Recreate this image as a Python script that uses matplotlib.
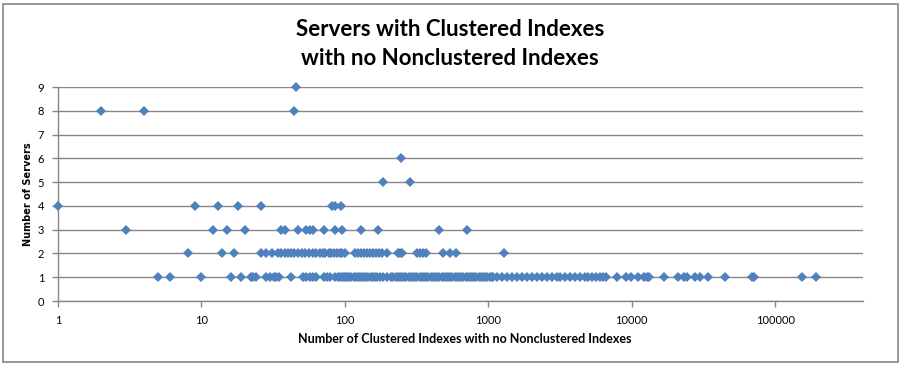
import matplotlib
matplotlib.use('Agg')
import matplotlib.pyplot as plt
from matplotlib.patches import Rectangle
from matplotlib.ticker import FixedLocator, FixedFormatter, NullLocator

plt.rcParams['font.family'] = ['Lato', 'DejaVu Sans']

# x = number of clustered indexes with no nonclustered indexes, grouped by server count
servers_9 = [46]
servers_8 = [2, 4, 44]
servers_6 = [245]
servers_5 = [184, 284]
servers_4 = [1, 9, 13, 18, 26, 82, 86, 94]
servers_3 = [3, 12, 15, 20, 36, 38, 47, 54, 57, 60, 72, 86, 96, 130, 169, 452, 708]
servers_2 = [8, 14, 17, 26, 28, 31, 34, 36, 38, 40, 42, 44, 47, 50, 53, 56, 60, 63,
             67, 70, 73, 77, 80, 84, 88, 92, 96, 100, 118, 124, 130, 136, 142, 150,
             158, 166, 174, 181, 196, 235, 243, 250, 316, 333, 350, 370, 486, 540,
             596, 1295]
servers_1 = [5, 6, 10, 16, 19, 22, 23, 24, 28, 30, 32, 33, 35, 42, 51, 54, 57, 60,
             63, 71, 75, 79, 85, 89, 92, 95, 98, 101, 104, 107, 111, 115, 119, 123,
             127, 131, 136, 141, 146, 151, 157, 163, 168, 177, 186, 196, 211, 218,
             226, 234, 242, 251, 260, 269, 279, 289, 299, 310, 321, 332, 344, 356,
             369, 382, 396, 410, 425, 440, 456, 472, 489, 506, 524, 543, 562, 582,
             603, 625, 647, 670, 694, 719, 745, 771, 799, 827, 857, 888, 920, 953,
             987, 1022, 1058, 1085, 1146, 1242, 1345, 1458, 1580, 1713, 1855, 2010,
             2178, 2360, 2558, 2773, 3005, 3170, 3430, 3720, 4030, 4370, 4730, 4970,
             5300, 5650, 6030, 6310, 6620, 7950, 9100, 9860, 11000, 12100, 12800,
             13300, 16800, 21200, 23000, 24400, 27700, 30000, 33900, 44800, 68500,
             71000, 153000, 192000]

groups = {9: servers_9, 8: servers_8, 6: servers_6, 5: servers_5,
          4: servers_4, 3: servers_3, 2: servers_2, 1: servers_1}

x_ticks = [1, 10, 100, 1000, 10000, 100000]
x_tick_labels = ['1', '10', '100', '1000', '10000', '100000']
y_ticks = [0, 1, 2, 3, 4, 5, 6, 7, 8, 9]

xs = []
ys = []
for n, vals in groups.items():
    xs += vals
    ys += [n] * len(vals)

grey = '#868686'
blue = '#4F81BD'

fig = plt.figure(figsize=(9.01, 3.66), dpi=100)
ax = fig.add_axes([58/901, 65/366, 805/901, 214/366])

ax.plot(xs, ys, 'D', ms=5, color=blue, mew=0, zorder=3, clip_on=False)

ax.set_xscale('log')
ax.set_xlim(1, 4.1e5)
ax.set_ylim(0, 9)
ax.xaxis.set_major_locator(FixedLocator(x_ticks))
ax.xaxis.set_major_formatter(FixedFormatter(x_tick_labels))
ax.xaxis.set_minor_locator(NullLocator())
ax.set_yticks(y_ticks)

ax.yaxis.grid(True, color=grey, lw=1)
ax.set_axisbelow(True)
for s in ['top', 'right']:
    ax.spines[s].set_visible(False)
for s in ['left', 'bottom']:
    ax.spines[s].set_color(grey)
    ax.spines[s].set_linewidth(1)
ax.tick_params(direction='out', length=4, width=1, color=grey, labelsize=8)
ax.tick_params(axis='x', pad=6)
ax.tick_params(axis='y', pad=6)

ax.set_xlabel('Number of Clustered Indexes with no Nonclustered Indexes',
              fontsize=9, fontweight='bold', va='center')
ax.xaxis.set_label_coords((465-58)/805, (301-339)/214)
ax.set_ylabel('Number of Servers', fontsize=7, fontweight='bold', va='center',
              family='DejaVu Sans')
ax.yaxis.set_label_coords((28-58)/805, 0.5)

fig.text(450/901, 1-44/366, 'Servers with Clustered Indexes\nwith no Nonclustered Indexes',
         ha='center', va='center', fontsize=16, fontweight='bold', linespacing=1.5)

fig.patches.append(Rectangle((3/901, 4/366), 895/901, 358/366, transform=fig.transFigure,
                             fill=False, ec=grey, lw=1.2))

fig.savefig('out.png', dpi=100)
